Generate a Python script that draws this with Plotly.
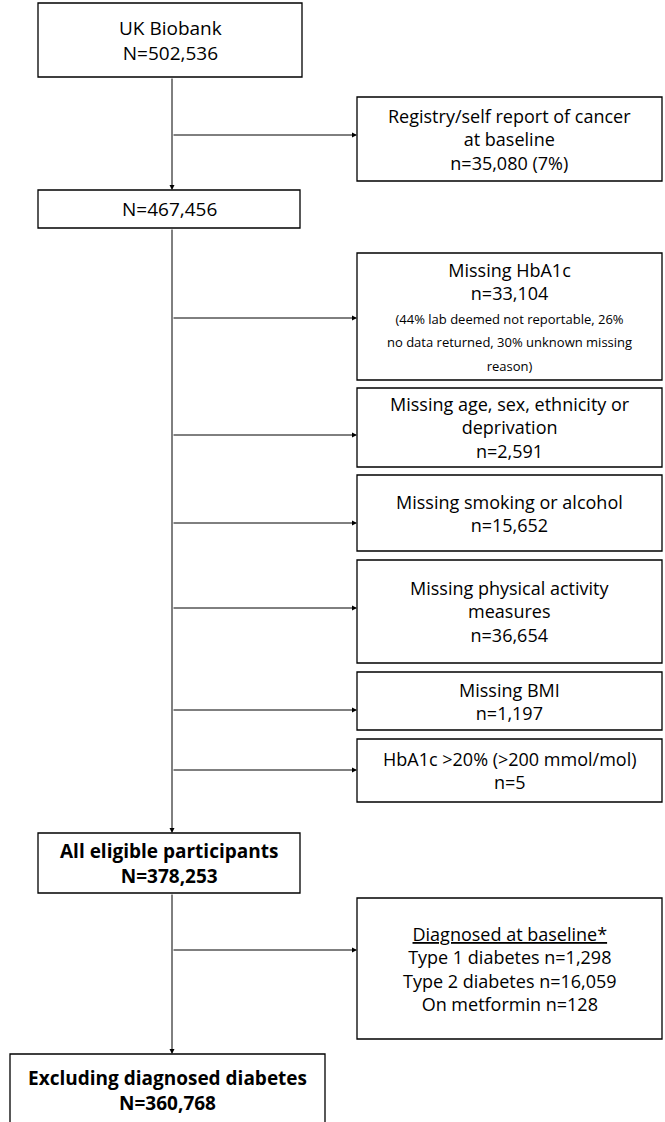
import plotly.graph_objects as go

W, H = 665, 1122
FONT = "Open Sans"

# main column boxes
main_labels = [
    "UK Biobank<br>N=502,536",
    "N=467,456",
    "<b>All eligible participants<br>N=378,253</b>",
    "<b>Excluding diagnosed diabetes<br>N=360,768</b>",
]
main_boxes = [(38, 302, 3, 77), (38, 300, 190, 228), (38, 300, 833, 893), (10, 325, 1054, 1140)]

# exclusion boxes
excl_labels = [
    "Registry/self report of cancer<br>at baseline<br>n=35,080 (7%)",
    "Missing HbA1c<br>n=33,104<br><span style='font-size:13px'>(44% lab deemed not reportable, 26%<br>no data returned, 30% unknown missing<br>reason)</span>",
    "Missing age, sex, ethnicity or<br>deprivation<br>n=2,591",
    "Missing smoking or alcohol<br>n=15,652",
    "Missing physical activity<br>measures<br>n=36,654",
    "Missing BMI<br>n=1,197",
    "HbA1c >20% (>200 mmol/mol)<br>n=5",
    "<u>Diagnosed at baseline*</u><br>Type 1 diabetes n=1,298<br>Type 2 diabetes n=16,059<br>On metformin n=128",
]
excl_boxes = [(357, 97, 181), (357, 253, 380), (357, 388, 467), (357, 475, 551),
              (357, 560, 663), (357, 672, 730), (357, 739, 802), (357, 898, 1039)]
excl_arrow_y = [135, 318, 435, 523, 608, 710, 770, 950]
X_RIGHT = 662
SPINE = 172

fig = go.Figure()
shapes, anns = [], []

for (x0, x1, y0, y1), txt in zip(main_boxes, main_labels):
    shapes.append(dict(type="rect", x0=x0, x1=x1, y0=y0, y1=y1, line=dict(color="black", width=1.3)))
    yc = (y0 + y1) / 2 if y1 <= H else y0 + 36
    anns.append(dict(x=(x0 + x1) / 2, y=yc, text=txt, showarrow=False,
                     font=dict(family=FONT, size=19, color="black")))

for (x0, y0, y1), txt in zip(excl_boxes, excl_labels):
    shapes.append(dict(type="rect", x0=x0, x1=X_RIGHT, y0=y0, y1=y1, line=dict(color="black", width=1.3)))
    anns.append(dict(x=(x0 + X_RIGHT) / 2, y=(y0 + y1) / 2, text=txt, showarrow=False,
                     font=dict(family=FONT, size=18, color="black")))

# spine segments with arrowheads into next main box
for i in range(len(main_boxes) - 1):
    ys, ye = main_boxes[i][3], main_boxes[i + 1][2]
    anns.append(dict(x=SPINE, y=ye, ax=SPINE, ay=ys, xref="x", yref="y", axref="x", ayref="y",
                     text="", showarrow=True, arrowhead=2, arrowsize=1, arrowwidth=1, arrowcolor="black"))

for y, (x0, _, _) in zip(excl_arrow_y, excl_boxes):
    anns.append(dict(x=x0, y=y, ax=SPINE, ay=y, xref="x", yref="y", axref="x", ayref="y",
                     text="", showarrow=True, arrowhead=2, arrowsize=1, arrowwidth=1, arrowcolor="black"))

fig.update_layout(
    width=W, height=H, margin=dict(l=0, r=0, t=0, b=0),
    paper_bgcolor="white", plot_bgcolor="white",
    xaxis=dict(range=[0, W], visible=False, fixedrange=True),
    yaxis=dict(range=[H, 0], visible=False, fixedrange=True),
    shapes=shapes, annotations=anns, showlegend=False,
)
fig.write_html("out.html", config={"displayModeBar": False},
               post_script="document.body.style.margin='0';document.body.style.overflow='hidden';")
